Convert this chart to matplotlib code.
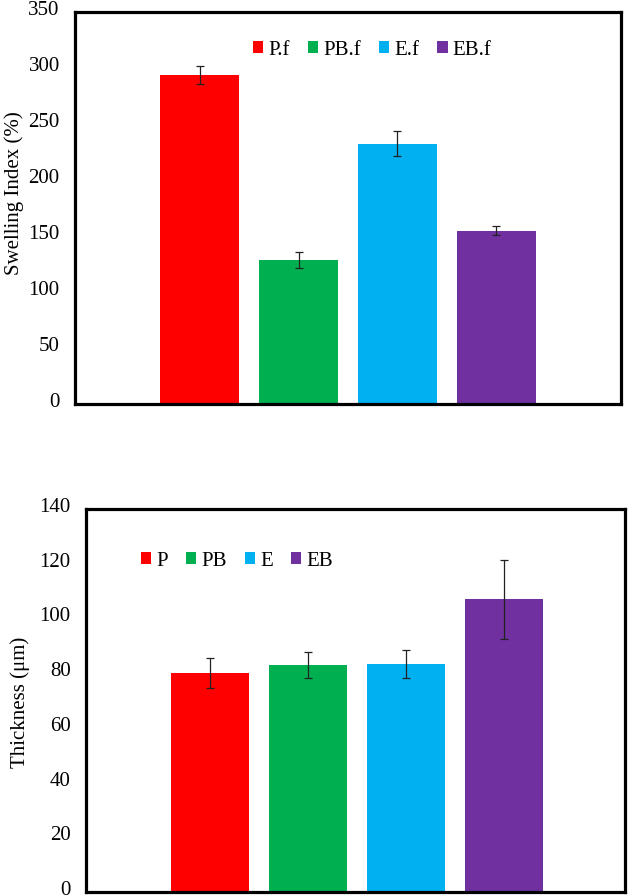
import matplotlib
matplotlib.use("Agg")
import matplotlib.pyplot as plt
from matplotlib.transforms import ScaledTranslation

plt.rcParams['font.family'] = ['Liberation Serif', 'DejaVu Serif']

# данные для верхнего графика (набухание)
swell_labels = ["P.f", "PB.f", "E.f", "EB.f"]
swell_values = [294, 128.5, 232.5, 154.5]
swell_err = [8, 7.5, 11.5, 4]

# данные для нижнего графика (толщина)
thick_labels = ["P", "PB", "E", "EB"]
thick_values = [80, 83, 83.5, 107]
thick_err = [5.6, 4.7, 5.1, 14.5]

colors = ["#FF0000", "#00B050", "#00B0F0", "#7030A0"]

W, H = 628, 896
fig = plt.figure(figsize=(W / 100, H / 100), dpi=100)


def px_axes(left, top, right, bottom):
    # позиция осей в пикселях -> доли фигуры
    return fig.add_axes([left / W, 1 - bottom / H, (right - left) / W, (bottom - top) / H])


def draw_panel(ax, labels, values, errs, ymax, ystep, xlim, leg_anchor):
    for i in range(len(values)):
        ax.bar(i, values[i], width=0.8, color=colors[i], label=labels[i],
               yerr=errs[i], capsize=3, error_kw=dict(ecolor="#222222", elinewidth=0.9, capthick=0.9))
    ax.set_xlim(*xlim)
    ax.set_ylim(0, ymax)
    ax.set_yticks(range(0, ymax + 1, ystep))
    ax.set_xticks([])
    ax.tick_params(axis="y", length=0, pad=11, labelsize=15)
    # подписи чуть выше линии, как в Excel
    shift = ScaledTranslation(0, 4 / 100, fig.dpi_scale_trans)
    for t in ax.get_yticklabels():
        t.set_transform(t.get_transform() + shift)
    for s in ax.spines.values():
        s.set_linewidth(2.3)
        s.set_color("black")
    ax.legend(loc="center left", bbox_to_anchor=leg_anchor, ncol=4, frameon=False,
              fontsize=15, handlelength=0.5, handleheight=0.5, handletextpad=0.25,
              columnspacing=0.85, borderpad=0, borderaxespad=0)


ax1 = px_axes(75, 12, 621, 404)
draw_panel(ax1, swell_labels, swell_values, swell_err, 350, 50, (-1.258, 4.258), (0.326, 0.903))
fig.text(14 / W, 1 - 193 / H, "Swelling Index (%)", rotation=90, ha="center", va="center", fontsize=15)

ax2 = px_axes(86, 509, 625, 892)
draw_panel(ax2, thick_labels, thick_values, thick_err, 140, 20, (-1.265, 4.235), (0.102, 0.864))
fig.text(20 / W, 1 - 702 / H, "Thickness (μm)", rotation=90, ha="center", va="center", fontsize=15)

fig.savefig("out.png", dpi=100)
